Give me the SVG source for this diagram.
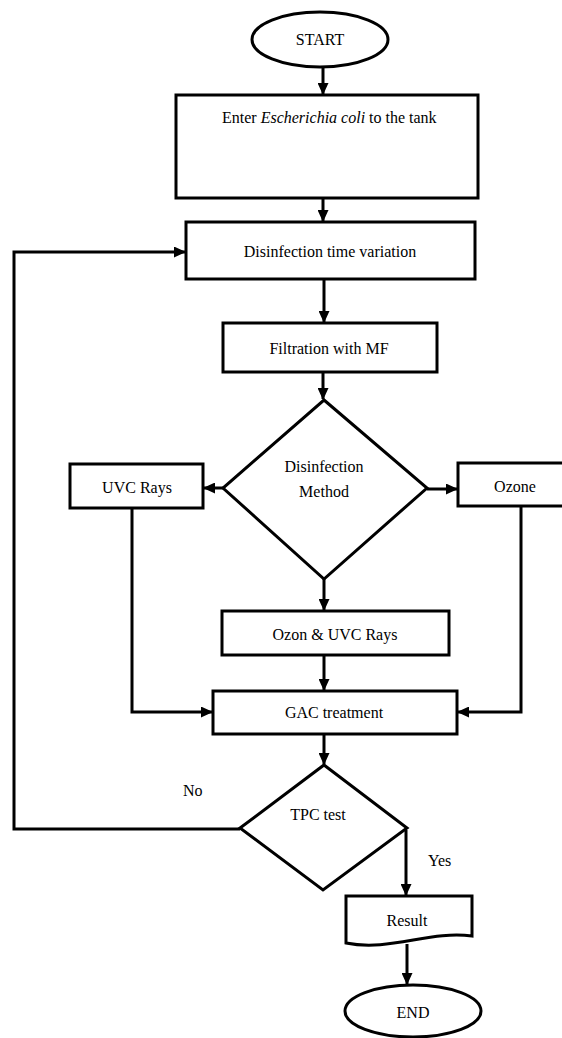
<svg xmlns="http://www.w3.org/2000/svg" width="562" height="1038" viewBox="0 0 562 1038" font-family="'Liberation Serif', 'Times New Roman', 'DejaVu Serif', serif">
<style>
.shape{fill:#fff;stroke:#000;stroke-width:3}
.line{fill:none;stroke:#000;stroke-width:3}
text{font-family:'Liberation Serif','Times New Roman','DejaVu Serif',serif;font-size:16px;fill:#000}
.c{text-anchor:middle}
</style>
<defs>
<marker id="ah" markerUnits="userSpaceOnUse" markerWidth="12" markerHeight="11" refX="11" refY="5.5" orient="auto">
<path d="M0,0 L12,5.5 L0,11 z" fill="#000"/>
</marker>
</defs>
<rect width="562" height="1038" fill="#fff"/>
<g id="connectors">
<line class="line" x1="323" y1="67" x2="323" y2="94" marker-end="url(#ah)"/>
<line class="line" x1="323" y1="198" x2="323" y2="221" marker-end="url(#ah)"/>
<line class="line" x1="324" y1="279" x2="324" y2="322" marker-end="url(#ah)"/>
<line class="line" x1="323" y1="372" x2="323" y2="399" marker-end="url(#ah)"/>
<line class="line" x1="223" y1="488" x2="204" y2="488" marker-end="url(#ah)"/>
<line class="line" x1="427" y1="489" x2="457" y2="489" marker-end="url(#ah)"/>
<line class="line" x1="324" y1="579" x2="324" y2="610" marker-end="url(#ah)"/>
<line class="line" x1="324" y1="655" x2="324" y2="690" marker-end="url(#ah)"/>
<polyline class="line" points="132,508 132,712 212,712" marker-end="url(#ah)"/>
<polyline class="line" points="521,506 521,712 458,712" marker-end="url(#ah)"/>
<line class="line" x1="324" y1="734" x2="324" y2="764" marker-end="url(#ah)"/>
<polyline class="line" points="240,829 14,829 14,252 185,252" marker-end="url(#ah)"/>
<line class="line" x1="406" y1="830" x2="406" y2="895" marker-end="url(#ah)"/>
<line class="line" x1="407" y1="944" x2="407" y2="984" marker-end="url(#ah)"/>
<text x="183" y="796">No</text>
<text x="428" y="866">Yes</text>
</g>
<g id="start">
<ellipse class="shape" cx="320" cy="39.5" rx="68" ry="27.5"/>
<text class="c" x="320" y="45">START</text>
</g>
<g id="enter">
<rect class="shape" x="176" y="95" width="302" height="103"/>
<text x="222" y="123">Enter <tspan font-style="italic">Escherichia coli</tspan> to the tank</text>
</g>
<g id="time">
<rect class="shape" x="186" y="222" width="289" height="57"/>
<text class="c" x="330" y="257">Disinfection time variation</text>
</g>
<g id="filtration">
<rect class="shape" x="223" y="323" width="214" height="49"/>
<text class="c" x="329" y="354">Filtration with MF</text>
</g>
<g id="method">
<polygon class="shape" points="324,400 427,488 324,579 223,488"/>
<text class="c" x="324" y="472">Disinfection</text>
<text class="c" x="324" y="497">Method</text>
</g>
<g id="uvc">
<rect class="shape" x="70" y="464" width="133" height="44"/>
<text class="c" x="137" y="493">UVC Rays</text>
</g>
<g id="ozone">
<rect class="shape" x="458" y="463" width="108" height="43"/>
<text class="c" x="515" y="492">Ozone</text>
</g>
<g id="ozon-uvc">
<rect class="shape" x="222" y="611" width="227" height="44"/>
<text class="c" x="335" y="640">Ozon &amp; UVC Rays</text>
</g>
<g id="gac">
<rect class="shape" x="213" y="691" width="244" height="43"/>
<text class="c" x="334" y="718">GAC treatment</text>
</g>
<g id="tpc">
<polygon class="shape" points="324,765 407,828 323,890 240,828"/>
<text class="c" x="318" y="820">TPC test</text>
</g>
<g id="result">
<path class="shape" d="M346,896 H472 V936 C430,930 390,952 346,943 Z"/>
<text class="c" x="407" y="926">Result</text>
</g>
<g id="end">
<ellipse class="shape" cx="413" cy="1011" rx="68" ry="26"/>
<text class="c" x="413" y="1018">END</text>
</g>
</svg>
